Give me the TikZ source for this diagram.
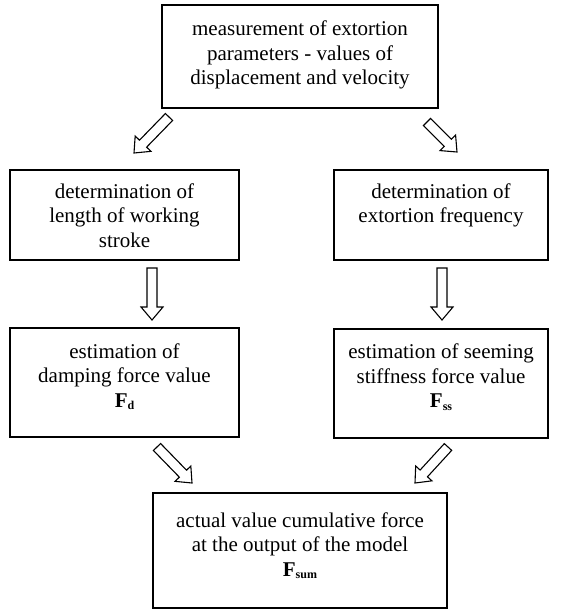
\documentclass[tikz,border=0pt]{standalone}
\usepackage{fontspec}
\setmainfont{Liberation Serif}
\usetikzlibrary{calc}
\newcommand\fsub[1]{\textbf{F}\raisebox{-2.5pt}{\fontsize{12}{12}\selectfont\bfseries #1}}
\newcommand\bxt[4]{%
  \begin{minipage}[t][#2][t]{#1}\centering\fontsize{21}{24.5}\selectfont
  \vspace*{\dimexpr#3-15pt\relax}\rule{0pt}{15pt}#4\end{minipage}}
\newcommand\barrow[2]{%
  \coordinate (hm) at ($(#2)!13pt!(#1)$);
  \draw[arr] ($(#1)!5pt!90:(#2)$) -- ($(hm)!5pt!90:(#2)$) -- ($(hm)!11pt!90:(#2)$)
    -- (#2) -- ($(hm)!11pt!-90:(#2)$) -- ($(hm)!5pt!-90:(#2)$) -- ($(#1)!5pt!-90:(#2)$) -- cycle;}
\begin{document}
\begin{tikzpicture}[x=1pt,y=-1pt,
  box/.style={draw, line width=1.5pt, inner sep=0pt, outer sep=0pt, anchor=north west},
  arr/.style={line width=1.1pt, line join=miter}]
\useasboundingbox[fill=white] (0,0) rectangle (560,612);
\node[box] (b1) at (162,5) {\bxt{276pt}{103pt}{31pt}{measurement of extortion\\parameters - values of\\displacement and velocity}};
\node[box] (b2l) at (10,170) {\bxt{229pt}{90pt}{28.5pt}{determination of\\length of working\\stroke}};
\node[box] (b2r) at (334,170) {\bxt{214pt}{90pt}{28.5pt}{determination of\\extortion frequency}};
\node[box] (b3l) at (10,328) {\bxt{229pt}{109pt}{30pt}{estimation of\\damping force value\\\fsub{d}}};
\node[box] (b3r) at (334,329) {\bxt{214pt}{109pt}{29.5pt}{estimation of seeming\\stiffness force value\\\fsub{ss}}};
\node[box] (b4) at (153,493) {\bxt{294pt}{115pt}{34pt}{actual value cumulative force\\at the output of the model\\\fsub{sum}}};
\coordinate (a1s) at (169,117); \coordinate (a1e) at (134,153);
\coordinate (a2s) at (427,122); \coordinate (a2e) at (457,152);
\coordinate (v1s) at (152,268); \coordinate (v1e) at (152,320);
\coordinate (v2s) at (442,268); \coordinate (v2e) at (442,320);
\coordinate (a3s) at (157,447); \coordinate (a3e) at (192,483);
\coordinate (a4s) at (448,447); \coordinate (a4e) at (415,483);
\barrow{a1s}{a1e}
\barrow{a2s}{a2e}
\barrow{v1s}{v1e}
\barrow{v2s}{v2e}
\barrow{a3s}{a3e}
\barrow{a4s}{a4e}
\end{tikzpicture}
\end{document}
